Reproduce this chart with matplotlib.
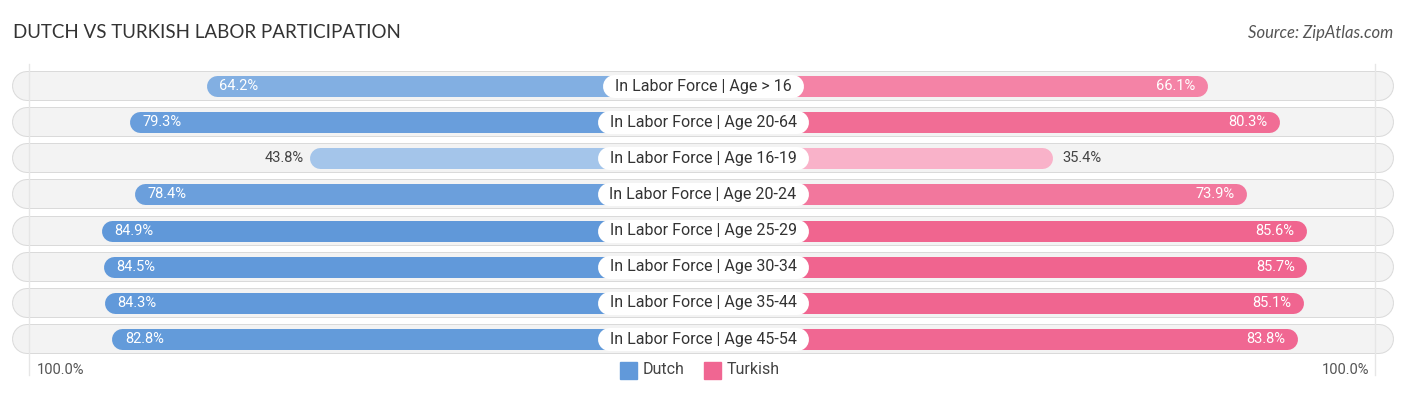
import matplotlib.pyplot as plt
import matplotlib.colors as mcolors
import numpy as np

# data
categories = ["In Labor Force | Age > 16", "In Labor Force | Age 20-64",
              "In Labor Force | Age 16-19", "In Labor Force | Age 20-24",
              "In Labor Force | Age 25-29", "In Labor Force | Age 30-34",
              "In Labor Force | Age 35-44", "In Labor Force | Age 45-54"]
dutch = [64.2, 79.3, 43.8, 78.4, 84.9, 84.5, 84.3, 82.8]
turkish = [66.1, 80.3, 35.4, 73.9, 85.6, 85.7, 85.1, 83.8]

W, H = 1406, 395
px_per_pct = 5.06
gap_l = 34.0        # percent units hidden under the centre label (left)
gap_r = 33.6        # same, right side
row_px = 36.15
first_row_px = 86

fig = plt.figure(figsize=(W / 100, H / 100), dpi=100)
ax = fig.add_axes([0, 0, 1, 1])
half = (W / 2) / px_per_pct
ax.set_xlim(-half, half)
ax.set_ylim((H - first_row_px) / row_px, -first_row_px / row_px)
ax.axis("off")

pt_per_px = 72 / 100
r_pct = lambda px: px / px_per_pct  # pixels -> x data units


def shade(v, light, dark, lo=35.0, hi=86.0):
    t = np.clip((v - lo) / (hi - lo), 0, 1)
    a = np.array(mcolors.to_rgb(light))
    b = np.array(mcolors.to_rgb(dark))
    return a + (b - a) * t


def rbar(x0, x1, y, h_px, color, z):
    # horizontal bar with fully round ends, drawn as a thick capped line
    r = r_pct(h_px / 2)
    ax.plot([x0 + r, x1 - r], [y, y], color=color, lw=h_px * pt_per_px,
            solid_capstyle="round", zorder=z)


# faint guide lines at 100%
for xg in (-(gap_l + 99.3), gap_r + 99.3):
    ax.plot([xg] * 2, [-0.6, 8.0], color="#e6e6e6", lw=1, zorder=2.5)

renderer = fig.canvas.get_renderer()
track_end = gap_r + 100 + 3.0
for i, cat in enumerate(categories):
    # track: border, then fill
    rbar(-track_end, track_end, i, 30, "#dadada", 1)
    rbar(-track_end + r_pct(1), track_end - r_pct(1), i, 28, "#f3f3f3", 2)

    d, t = dutch[i], turkish[i]
    dc = shade(d, "#b3cfee", "#5e97d9")
    tc = shade(t, "#f9b3c9", "#f0648f")
    rbar(-(gap_l + d), 0, i, 21, dc, 3)
    rbar(0, gap_r + t, i, 21, tc, 3)

    txt = ax.text(0, i, cat, ha="center", va="center", fontsize=11.5,
                  family="Roboto", color="#333333", zorder=6)
    bb = txt.get_window_extent(renderer)
    half_w = r_pct(bb.width / 2 + 12)
    rbar(-half_w, half_w, i, 23, "white", 5)

    if d > 55:
        ax.text(-(gap_l + d) + r_pct(13), i, f"{d:.1f}%", ha="left",
                va="center", fontsize=10.5, family="Roboto", color="white",
                zorder=5)
    else:
        ax.text(-(gap_l + d) - r_pct(6), i, f"{d:.1f}%", ha="right",
                va="center", fontsize=10.5, family="Roboto", color="#444444",
                zorder=5)
    if t > 55:
        ax.text(gap_r + t - r_pct(12), i, f"{t:.1f}%", ha="right",
                va="center", fontsize=10.5, family="Roboto", color="white",
                zorder=5)
    else:
        ax.text(gap_r + t + r_pct(10), i, f"{t:.1f}%", ha="left",
                va="center", fontsize=10.5, family="Roboto", color="#444444",
                zorder=5)

# title / source
fig.text(13 / W, 1 - 33 / H, "DUTCH VS TURKISH LABOR PARTICIPATION",
         ha="left", va="center", fontsize=13.5, family="Lato",
         color="#333333")
fig.text(1393 / W, 1 - 33 / H, "Source: ZipAtlas.com", ha="right",
         va="center", fontsize=12, family="Lato", style="italic",
         color="#555555")

# axis end labels
fig.text(37 / W, 1 - 370 / H, "100.0%", ha="left", va="center",
         fontsize=10.5, family="Roboto", color="#555555")
fig.text(1369 / W, 1 - 370 / H, "100.0%", ha="right", va="center",
         fontsize=10.5, family="Roboto", color="#555555")

# legend
for x, lab, col in [(620, "Dutch", "#6199da"), (704, "Turkish", "#f06692")]:
    fig.patches.append(plt.Rectangle((x / W, 1 - 379 / H), 17 / W, 17 / H,
                                     transform=fig.transFigure, color=col))
    fig.text((x + 23) / W, 1 - 370 / H, lab, ha="left", va="center",
             fontsize=11.5, family="Roboto", color="#444444")

fig.savefig("out.png", dpi=100)
